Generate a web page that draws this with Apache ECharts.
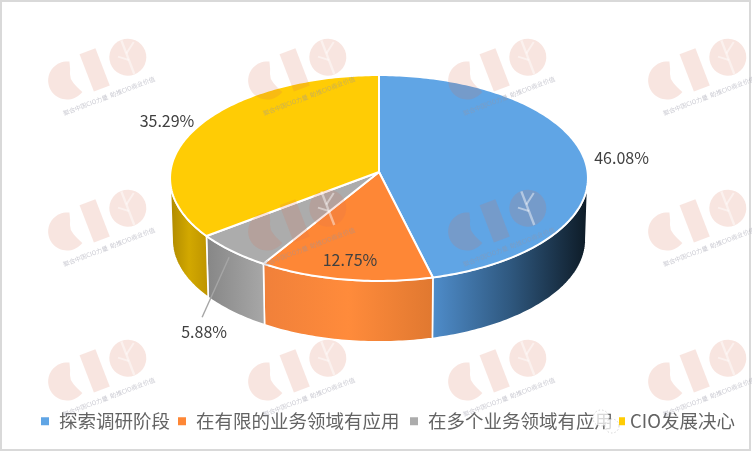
<!DOCTYPE html>
<html><head><meta charset="utf-8">
<style>html,body{margin:0;padding:0;background:#fff}#c{width:752px;height:452px}</style>
<script src="https://cdn.jsdelivr.net/npm/echarts@6/dist/echarts.min.js"></script>
</head><body><div id="c"></div>
<script>
const categories = ['探索调研阶段','在有限的业务领域有应用','在多个业务领域有应用','CIO发展决心'];
const shares = [46.08,12.75,5.88,35.29];
const topColors = ['#60a5e5','#fe8736','#acacac','#ffcc05'];
const sideStops = [
  ['#4f8dcb','#2f587f','#0d1a25'],
  ['#f0803a','#ff8b3b','#e07830'],
  ['#868686','#979797','#a8a8a8'],
  ['#ad8800','#d2a800','#bd9300']
];
const labelOffsets = [[37,-2],[5,-20],[-28,81],[-30,-6]];
const FONT = '"Noto Sans CJK SC","Noto Sans",sans-serif';
const TOP = {cx:379, cy:172, a:208.6, b:102.6};
const BOT = {cx:379, cy:234, a:206.5, b:101.6};
const P = 0.0582;
const rad = d => d*Math.PI/180;
function proj(e, deg){
  const s=Math.sin(rad(deg)), c=Math.cos(rad(deg)), d=1+P*c;
  return [e.cx+e.a*s/d, e.cy-e.b*c/d];
}
function arc(e, from, to){
  const pts=[], n=Math.max(2,Math.ceil(Math.abs(to-from)));
  for(let i=0;i<=n;i++) pts.push(proj(e, from+(to-from)*i/n));
  return pts;
}
const total = shares.reduce((a,b)=>a+b,0);
const FRONT_FROM = 93, FRONT_TO = 267;
function renderSlice(idx){
  return function(params, api){
    const v = api.value(0);
    let before = 0;
    for(let i=0;i<idx;i++) before += shares[i];
    const a0 = before/total*360, a1 = (before+v)/total*360;
    const children = [];
    const sf = Math.max(a0,FRONT_FROM), st = Math.min(a1,FRONT_TO);
    if(st>sf){
      const up = arc(TOP,sf,st), dn = arc(BOT,st,sf);
      const stops = sideStops[idx];
      children.push({type:'polygon', shape:{points:up.concat(dn)},
        style:{fill:new echarts.graphic.LinearGradient(0,0,1,0,[
          {offset:0,color:stops[0]},{offset:.5,color:stops[1]},{offset:1,color:stops[2]}]),
          stroke:'#fff', lineWidth:1.6, lineJoin:'round'}, z2:1});
    }
    const rim = arc(TOP,a0,a1);
    children.push({type:'polygon', shape:{points:[[TOP.cx,TOP.cy]].concat(rim)},
      style:{fill:topColors[idx], stroke:'#fff', lineWidth:2, lineJoin:'round'}, z2:2});
    const mid = proj(TOP,(a0+a1)/2), off = labelOffsets[idx];
    if(idx===2){
      children.push({type:'line', shape:{x1:mid[0]-3,y1:mid[1]+6,x2:mid[0]-30,y2:mid[1]+66},
        style:{stroke:'#a6a6a6',lineWidth:1.4}, z2:3});
    }
    children.push({type:'text', z2:4, style:{text:v.toFixed(2)+'%', x:mid[0]+off[0], y:mid[1]+off[1],
      align:'center', verticalAlign:'middle', fill:'#404040', font:'16px '+FONT}});
    return {type:'group', children};
  };
}
const series = categories.map((name,i)=>({
  type:'custom', name, coordinateSystem:'none', silent:true, animation:false,
  itemStyle:{color:topColors[i]}, data:[[shares[i]]], renderItem:renderSlice(i), z:2
}));
const legendLeft = [41,178,410,619];
const legendPad = [5,5,5,0];
const legendMark = [8,8,8,6];
const legend = categories.map((name,i)=>({
  data:[name], left:legendLeft[i], top:412, padding:0, itemWidth:legendMark[i], itemHeight:8, icon:'rect',
  selectedMode:false, textStyle:{fontFamily:FONT,fontSize:18.5,color:'#636363',padding:[0,0,0,legendPad[i]]}
}));
// watermark tiles
const wmCols = [97,297,497,697], wmRows = [69,220,370];
const pink = 'rgba(215,110,85,0.18)', cut='rgba(255,255,255,0.45)';
const cShape = [];
for(let d=58;d<=302;d+=6){cShape.push([-32+19*Math.cos(rad(d)),19*Math.sin(rad(d))]);}
cShape.push([-25,-10],[-27,-5],[-28,0],[-27,5],[-25,10]);
const graphic = [{type:'rect',silent:true,z:0,shape:{x:1,y:1,width:749,height:449},
  style:{fill:'#fff',stroke:'#d9d9d9',lineWidth:2}}];
wmRows.forEach(y=>wmCols.forEach(x=>{
  graphic.push({type:'group',x,y,rotation:0.367,z:50,silent:true,children:[
    {type:'polygon',z:50,shape:{points:cShape},style:{fill:pink}},
    {type:'rect',z:50,shape:{x:-11,y:-20,width:17,height:40},style:{fill:pink}},
    {type:'circle',z:50,shape:{cx:33,cy:0,r:18.5},style:{fill:pink}},
    {type:'line',z:51,shape:{x1:33,y1:-18,x2:33,y2:18},style:{stroke:cut,lineWidth:2.4}},
    {type:'line',z:51,shape:{x1:33,y1:-4,x2:44,y2:-12},style:{stroke:cut,lineWidth:2}},
    {type:'line',z:51,shape:{x1:33,y1:3,x2:24,y2:-4},style:{stroke:cut,lineWidth:2}},
    {type:'text',z:51,style:{text:'聚合中国CIO力量  助推CIO商业价值',x:1.5,y:29.5,align:'center',verticalAlign:'middle',
      fill:'rgba(150,150,165,0.5)',font:'6.2px '+FONT}}
  ]});
}));
graphic.push({type:'circle',silent:true,z:60,shape:{cx:601,cy:418,r:8},style:{fill:'rgba(255,255,255,0.75)',stroke:'#bbb',lineWidth:0.6,lineDash:[1.5,2]}});
graphic.push({type:'circle',silent:true,z:60,shape:{cx:612,cy:426,r:7},style:{fill:'rgba(255,255,255,0.75)',stroke:'#bbb',lineWidth:0.6,lineDash:[1.5,2]}});
const chart = echarts.init(document.getElementById('c'),null,{renderer:'canvas',width:752,height:452});
chart.setOption({backgroundColor:'#fff',animation:false,legend,graphic,series});
</script></body></html>
